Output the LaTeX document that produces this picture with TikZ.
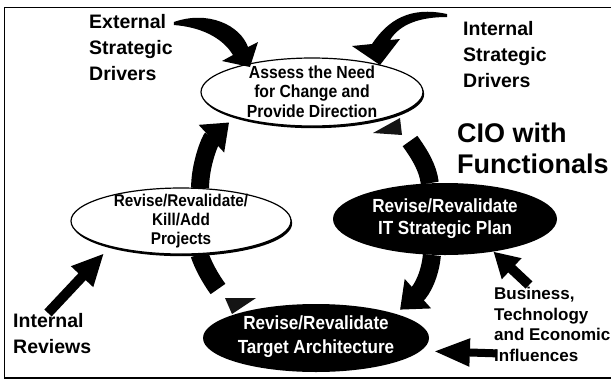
\documentclass[tikz,border=0pt]{standalone}
\usepackage{fontspec}
\setmainfont{Liberation Sans}
\newfontfamily\narrow{Liberation Sans}[FakeStretch=0.9]
\usetikzlibrary{positioning,shapes.geometric,arrows.meta,shadows,backgrounds}

\begin{document}
\begin{tikzpicture}[x=1pt,y=1pt,
light/.style={ellipse, draw, line width=1.2pt, fill=white, inner sep=0pt,
  drop shadow={shadow xshift=1.2pt, shadow yshift=-2.2pt, opacity=1, fill=black}},
dark/.style={ellipse, fill=black, inner sep=0pt},
inside/.style={align=center, inner sep=0pt},
side/.style={align=left, inner sep=0pt, anchor=north west},
ring/.style={line width=18pt, black},
wedge/.style={fill=black!92},
pointer/.style={line width=10pt, -{Triangle[length=30pt,width=28pt]}},
]
\useasboundingbox (0,0) rectangle (613,-381);

% frame
\draw[line width=0.8pt] (4,-378) -- (4,-7) -- (611,-7);
\draw[line width=2pt] (4,-378) -- (611,-378);

% the four steps
\node[light, minimum width=222pt, minimum height=68pt] (assess) at (312,-92) {};
\node[inside, font=\narrow\bfseries\fontsize{17.5}{19.5}\selectfont] (assesstext) at ([yshift=0.5pt]assess) {Assess the Need\\for Change and\\Provide Direction};

\node[dark, minimum width=224pt, minimum height=72pt] (itplan) at (445,-219) {};
\node[inside, text=white, font=\narrow\bfseries\fontsize{19}{22}\selectfont] (itplantext) at (itplan) {Revise/Revalidate\\IT Strategic Plan};

\node[dark, minimum width=226pt, minimum height=68pt] (target) at (316,-338) {};
\node[inside, text=white, font=\narrow\bfseries\fontsize{19}{24}\selectfont] (targettext) at ([yshift=1pt]target) {Revise/Revalidate\\Target Architecture};

\node[light, minimum width=220pt, minimum height=66pt] (kill) at (181,-221) {};
\node[inside, font=\narrow\bfseries\fontsize{17}{19}\selectfont] (killtext) at (kill) {Revise/Revalidate/\\Kill/Add\\Projects};

% side texts
\node[side, font=\bfseries\fontsize{19.5}{26}\selectfont] (extdrv) at (89,-14) {External\\Strategic\\Drivers};
\node[side, font=\bfseries\fontsize{19.5}{26}\selectfont] (intdrv) at (463,-21) {Internal\\Strategic\\Drivers};
\node[side, font=\bfseries\fontsize{27}{31}\selectfont] (cio) at (457,-123) {CIO with\\Functionals};
\node[side, font=\bfseries\fontsize{17}{20.5}\selectfont] (business) at (494,-287) {Business,\\Technology\\and Economic\\Influences};
\node[side, font=\bfseries\fontsize{19.5}{26}\selectfont] (reviews) at (13,-313) {Internal\\Reviews};

% cycle behind the ovals
\begin{scope}[on background layer]
\coordinate (rt) at (410,-141);
\coordinate (lb) at (218,-289);
\draw[ring, -{Triangle[length=24pt,width=36pt]}, shorten >=8pt] (kill.60) .. controls (200,-165) and (210,-140) .. (assess.198);
\fill[wedge] (373,-133) -- (400,-118) -- (402,-135) -- cycle;
\draw[ring] (rt) .. controls (420,-155) and (428,-168) .. (itplan.113);
\draw[ring, -{Triangle[length=24pt,width=38pt]}, shorten >=6pt] (itplan.250) .. controls (430,-275) and (422,-290) .. (target.17);
\draw[ring] (kill.-61) .. controls (203,-265) and (210,-278) .. (lb);
\fill[wedge] (225,-298) -- (256,-298) -- (232,-314) -- cycle;
\end{scope}

% drivers
\fill ([xshift=1pt,yshift=-8pt]extdrv.north east) .. controls (208,-10) and (240,-25) .. (248,-47)
  -- (258,-42) -- (250,-67) -- (222,-61) -- (233,-55)
  .. controls (222,-37) and (200,-27) .. ([xshift=1pt,yshift=-11pt]extdrv.north east) -- cycle;
\fill ([xshift=-16pt,yshift=7pt]intdrv.north west) .. controls (410,-6) and (388,-20) .. (372,-44)
  -- (352,-46) -- (380,-65) -- (400,-39) -- (390,-40)
  .. controls (400,-24) and (420,-17) .. ([xshift=-16pt,yshift=4pt]intdrv.north west) -- cycle;

\draw[pointer, -{Triangle[length=32pt,width=28pt]}, shorten >=9pt] ([xshift=35pt]reviews.north west) -- (kill.200);
\draw[pointer, -{Triangle[length=25pt,width=27pt]}] ([xshift=35pt,yshift=2pt]business.north west) -- (itplan.-34);
\draw[pointer, line width=8pt, -{Triangle[length=36pt,width=26pt]}, shorten >=13pt] ([xshift=3pt,yshift=8pt]business.south west) -- (target.-7);
\end{tikzpicture}
\end{document}
